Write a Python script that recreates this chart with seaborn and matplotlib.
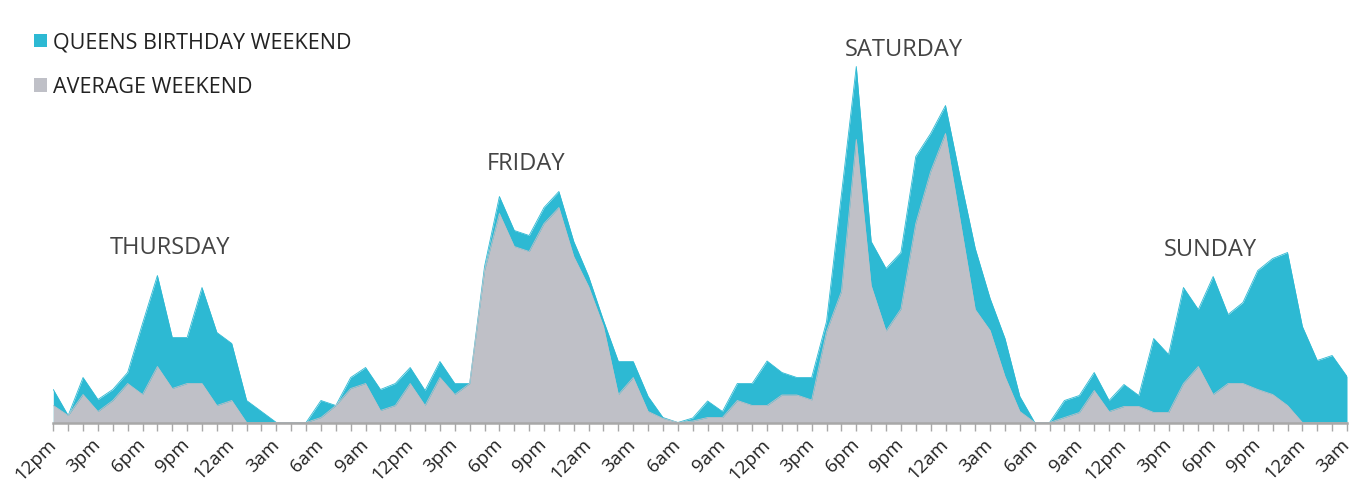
import numpy as np
import pandas as pd
import matplotlib
matplotlib.use("Agg")
import matplotlib.pyplot as plt
from matplotlib.patches import Patch
import seaborn as sns

# hourly activity, Thursday 12pm -> Monday 3am (88 hours)
queens_birthday = [33, 7, 45, 23, 33, 50, 99, 147, 85, 85, 135, 90, 79, 22, 11, 0,
                   0, 0, 22, 17, 45, 55, 33, 39, 55, 32, 61, 39, 39, 156,
                   226, 192, 187, 215, 231, 181, 146, 102, 61, 61, 26, 5, 0, 4.5,
                   21.5, 11, 39, 39, 61.5, 50, 45, 45, 101, 228, 356, 181, 154, 170,
                   266, 289, 317, 244, 174, 124, 84, 26, 0, 0, 22, 27, 50, 22,
                   38, 27, 84, 68, 135, 113, 146, 108, 120, 152, 164, 170, 96, 62,
                   67, 46]
average_weekend = [17, 7, 28, 11, 22, 39, 28, 56, 34, 39, 39, 17, 22, 0, 0, 0,
                   0, 0, 5, 17, 34, 39, 12, 17, 39, 17, 45, 28, 39, 152,
                   209, 176, 171, 199, 215, 166, 136, 96, 28, 45, 11, 4, 0, 1.5,
                   5, 5, 22, 17, 17, 27.5, 27.5, 22.5, 91, 131, 283, 137, 91.5, 113.5,
                   199, 251, 289, 201, 113, 92, 46, 11, 0, 0, 5, 10, 32, 11,
                   16, 16, 10, 10, 39, 56, 28, 39, 39, 33, 28, 17, 0, 0,
                   0, 0]
tick_labels = ["12pm", "3pm", "6pm", "9pm", "12am", "3am",
               "6am", "9am", "12pm", "3pm", "6pm", "9pm", "12am", "3am",
               "6am", "9am", "12pm", "3pm", "6pm", "9pm", "12am", "3am",
               "6am", "9am", "12pm", "3pm", "6pm", "9pm", "12am", "3am"]
day_names = ["THURSDAY", "FRIDAY", "SATURDAY", "SUNDAY"]
day_label_pos = [(7.85, 175), (31.8, 258), (57.2, 373), (77.8, 173)]

BLUE = "#2db9d3"
GREY = "#bfc0c7"

df = pd.DataFrame({
    "hour": np.arange(len(queens_birthday)),
    "queens": queens_birthday,
    "average": average_weekend,
})

sns.set_theme(style="white")
plt.rcParams["font.family"] = ["Open Sans", "DejaVu Sans"]

fig = plt.figure(figsize=(13.63, 4.99), dpi=100)
ax = fig.add_axes([53.3 / 1363, 1 - 422.5 / 499, (1347 - 53.3) / 1363, 422.5 / 499])

sns.lineplot(data=df, x="hour", y="queens", color=BLUE, lw=0.6, ax=ax)
ax.fill_between(df["hour"], df["queens"], color=BLUE, lw=0)
sns.lineplot(data=df, x="hour", y="average", color=GREY, lw=0.6, ax=ax)
ax.fill_between(df["hour"], df["average"], color=GREY, lw=0)

ax.set_xlim(0, len(df) - 1)
ax.set_ylim(0, 422.5)
ax.set_xlabel("")
ax.set_ylabel("")
ax.set_yticks([])

ax.set_xticks(np.arange(0, len(df), 3))
ax.set_xticks(np.arange(0, len(df)), minor=True)
ax.set_xticklabels(tick_labels, rotation=45, ha="right", va="center",
                   rotation_mode="anchor", fontsize=13.5, color="#222222")
ax.tick_params(axis="x", which="both", bottom=True, length=6, width=1,
               color="#a8a8a8", pad=8)

for side in ["top", "left", "right"]:
    ax.spines[side].set_visible(False)
ax.spines["bottom"].set_color("#a8a8a8")
ax.spines["bottom"].set_linewidth(1.8)
ax.spines["bottom"].set_zorder(5)

for name, (x, y) in zip(day_names, day_label_pos):
    ax.text(x, y, name, ha="center", va="center", fontsize=17,
            color="#444444")

handles = [Patch(facecolor=BLUE, edgecolor="none"),
           Patch(facecolor=GREY, edgecolor="none")]
fig.legend(handles, ["QUEENS BIRTHDAY WEEKEND", "AVERAGE WEEKEND"],
           loc="upper left", bbox_to_anchor=(34 / 1363, 1 - 32 / 499),
           frameon=False, fontsize=15.5, handlelength=0.6, handleheight=0.6,
           handletextpad=0.3, labelspacing=1.1, borderpad=0, borderaxespad=0,
           labelcolor="#222222")

fig.savefig("out.png", dpi=100)
